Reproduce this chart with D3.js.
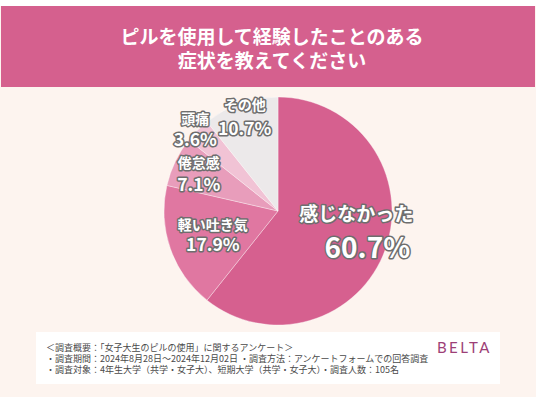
<!DOCTYPE html>
<html lang="ja">
<head>
<meta charset="UTF-8">
<title>ピルを使用して経験したことのある症状を教えてください</title>
<script src="https://d3js.org/d3.v7.min.js"></script>
<style>
  html, body { margin: 0; padding: 0; background: #fff; }
  svg { display: block; font-family: "Noto Sans CJK JP", "Noto Sans", sans-serif; }
  .lbl { fill: #fff; stroke: #6e6e6e; stroke-width: 3px; paint-order: stroke; stroke-linejoin: round; font-weight: 700; }
  .note { fill: #4a4a4a; font-size: 9px; }
</style>
</head>
<body>
<svg id="chart" width="536" height="397"></svg>
<script>
const categories = ["感じなかった", "軽い吐き気", "倦怠感", "頭痛", "その他"];
const percents = [60.7, 17.9, 7.1, 3.6, 10.7];
const titleLines = ["ピルを使用して経験したことのある", "症状を教えてください"];
const noteLines = [
  "＜調査概要：「女子大生のピルの使用」に関するアンケート＞",
  "・調査期間：2024年8月28日～2024年12月02日 ・調査方法：アンケートフォームでの回答調査",
  "・調査対象：4年生大学（共学・女子大）、短期大学（共学・女子大）・調査人数：105名"
];

const W = 536, H = 397;
const cx = 278, cy = 211, R = 114;

const colors = d3.scaleOrdinal()
  .domain(categories)
  .range(["#d6608f", "#e077a1", "#e89dbb", "#f1c3d5", "#ece9ea"]);

// label placement: radius from centre, gap between the two lines, font sizes
const labelStyle = {
  "感じなかった": { r: 83, gap: 33, f1: 19, f2: 28, dx2: 11, dy: -9 },
  "軽い吐き気": { r: 69, gap: 20, f1: 14, f2: 17.5 },
  "倦怠感": { r: 88, gap: 21, f1: 14, f2: 17.5 },
  "頭痛": { r: 117, gap: 21, f1: 14, f2: 17.5 },
  "その他": { r: 101, gap: 24, f1: 14, f2: 17.5 }
};

const svg = d3.select("#chart");

svg.append("rect").attr("width", W).attr("height", H).attr("fill", "#fdf4ef");
svg.append("rect").attr("width", W).attr("height", 6).attr("fill", "#fff");

// title banner
svg.append("rect")
  .attr("x", 1).attr("y", 6).attr("width", W - 2).attr("height", 81)
  .attr("fill", "#d5608e");
svg.selectAll(".title")
  .data(titleLines)
  .join("text")
  .attr("class", "title")
  .attr("x", 272)
  .attr("y", (d, i) => 35 + i * 24)
  .attr("text-anchor", "middle")
  .attr("dominant-baseline", "central")
  .attr("fill", "#fff")
  .attr("font-size", 19)
  .attr("font-weight", 700)
  .text(d => d);

// pie
const pie = d3.pie().sort(null).value(d => d.v);
const arc = d3.arc().innerRadius(0).outerRadius(R);
const arcs = pie(categories.map((c, i) => ({ c: c, v: percents[i] })));

const g = svg.append("g").attr("transform", `translate(${cx},${cy})`);

g.selectAll("path")
  .data(arcs)
  .join("path")
  .attr("d", arc)
  .attr("fill", d => colors(d.data.c))
  .attr("stroke", "rgba(255,255,255,0.35)")
  .attr("stroke-width", 1);

const labels = g.selectAll(".label")
  .data(arcs)
  .join("g")
  .attr("class", "label")
  .attr("transform", d => {
    const s = labelStyle[d.data.c];
    const p = d3.arc().innerRadius(s.r).outerRadius(s.r).centroid(d);
    return `translate(${p[0]},${p[1] + (s.dy || 0)})`;
  });

labels.append("text")
  .attr("class", "lbl")
  .attr("text-anchor", "middle")
  .attr("dominant-baseline", "central")
  .attr("y", d => -labelStyle[d.data.c].gap / 2)
  .attr("font-size", d => labelStyle[d.data.c].f1)
  .text(d => d.data.c);

labels.append("text")
  .attr("class", "lbl")
  .attr("text-anchor", "middle")
  .attr("dominant-baseline", "central")
  .attr("x", d => labelStyle[d.data.c].dx2 || 0)
  .attr("y", d => labelStyle[d.data.c].gap / 2)
  .attr("font-size", d => labelStyle[d.data.c].f2)
  .text(d => d3.format(".1f")(d.data.v) + "%");

// survey note box
svg.append("rect")
  .attr("x", 36).attr("y", 332).attr("width", 464).attr("height", 52)
  .attr("fill", "#fff");
svg.selectAll(".note")
  .data(noteLines)
  .join("text")
  .attr("class", "note")
  .attr("x", 46)
  .attr("y", (d, i) => 347 + i * 11)
  .attr("dominant-baseline", "central")
  .text(d => d);
svg.append("text")
  .attr("x", 492).attr("y", 347)
  .attr("text-anchor", "end")
  .attr("dominant-baseline", "central")
  .attr("fill", "#9d3f77")
  .attr("font-size", 15)
  .attr("letter-spacing", 2.5)
  .attr("font-family", "Lato, sans-serif")
  .text("BELTA");
</script>
</body>
</html>
